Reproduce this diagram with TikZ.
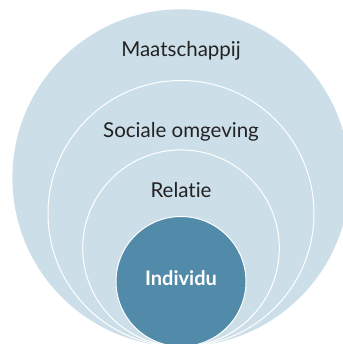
\documentclass[tikz,border=0pt]{standalone}
\usepackage{fontspec}
\setmainfont[Ligatures=NoCommon]{Lato}
\definecolor{ringblue}{HTML}{CCDEE7}
\definecolor{coreblue}{HTML}{528BA9}
\definecolor{ringtext}{HTML}{222222}
\tikzset{
 ring/.style={fill=ringblue, draw=white, line width=1pt},
 core/.style={fill=coreblue, draw=white, line width=1pt},
 ringlabel/.style={anchor=base, text=ringtext, font=\fontsize{20.5pt}{24pt}\selectfont, inner sep=0pt},
 corelabel/.style={anchor=base, text=white, font=\fontsize{20pt}{24pt}\selectfont\bfseries, inner sep=0pt}
}
\begin{document}
\begin{tikzpicture}[x=1pt,y=1pt]
 \useasboundingbox (0,0) rectangle (342,344); %figuur
 \coordinate (T) at (181,-2.5); %raakpunt onder
 \fill[ringblue] ([yshift=168.6pt]T) circle (168.6); %Maatschappij
 \draw[ring] ([yshift=133pt]T) circle (133); %Sociale omgeving
 \draw[ring] ([yshift=98.3pt]T) circle (98.3); %Relatie
 \draw[core] ([yshift=65pt]T) circle (65); %Individu
 \node[ringlabel] (maat) at (181,287.3) {Maatschappij};
 \node[ringlabel] (soc) at (181,206.7) {Sociale omgeving};
 \node[ringlabel] (rel) at (181,146.7) {Relat\kern0pt ie};
 \node[corelabel] (ind) at (181,58.3) {Individu};
\end{tikzpicture}
\end{document}
